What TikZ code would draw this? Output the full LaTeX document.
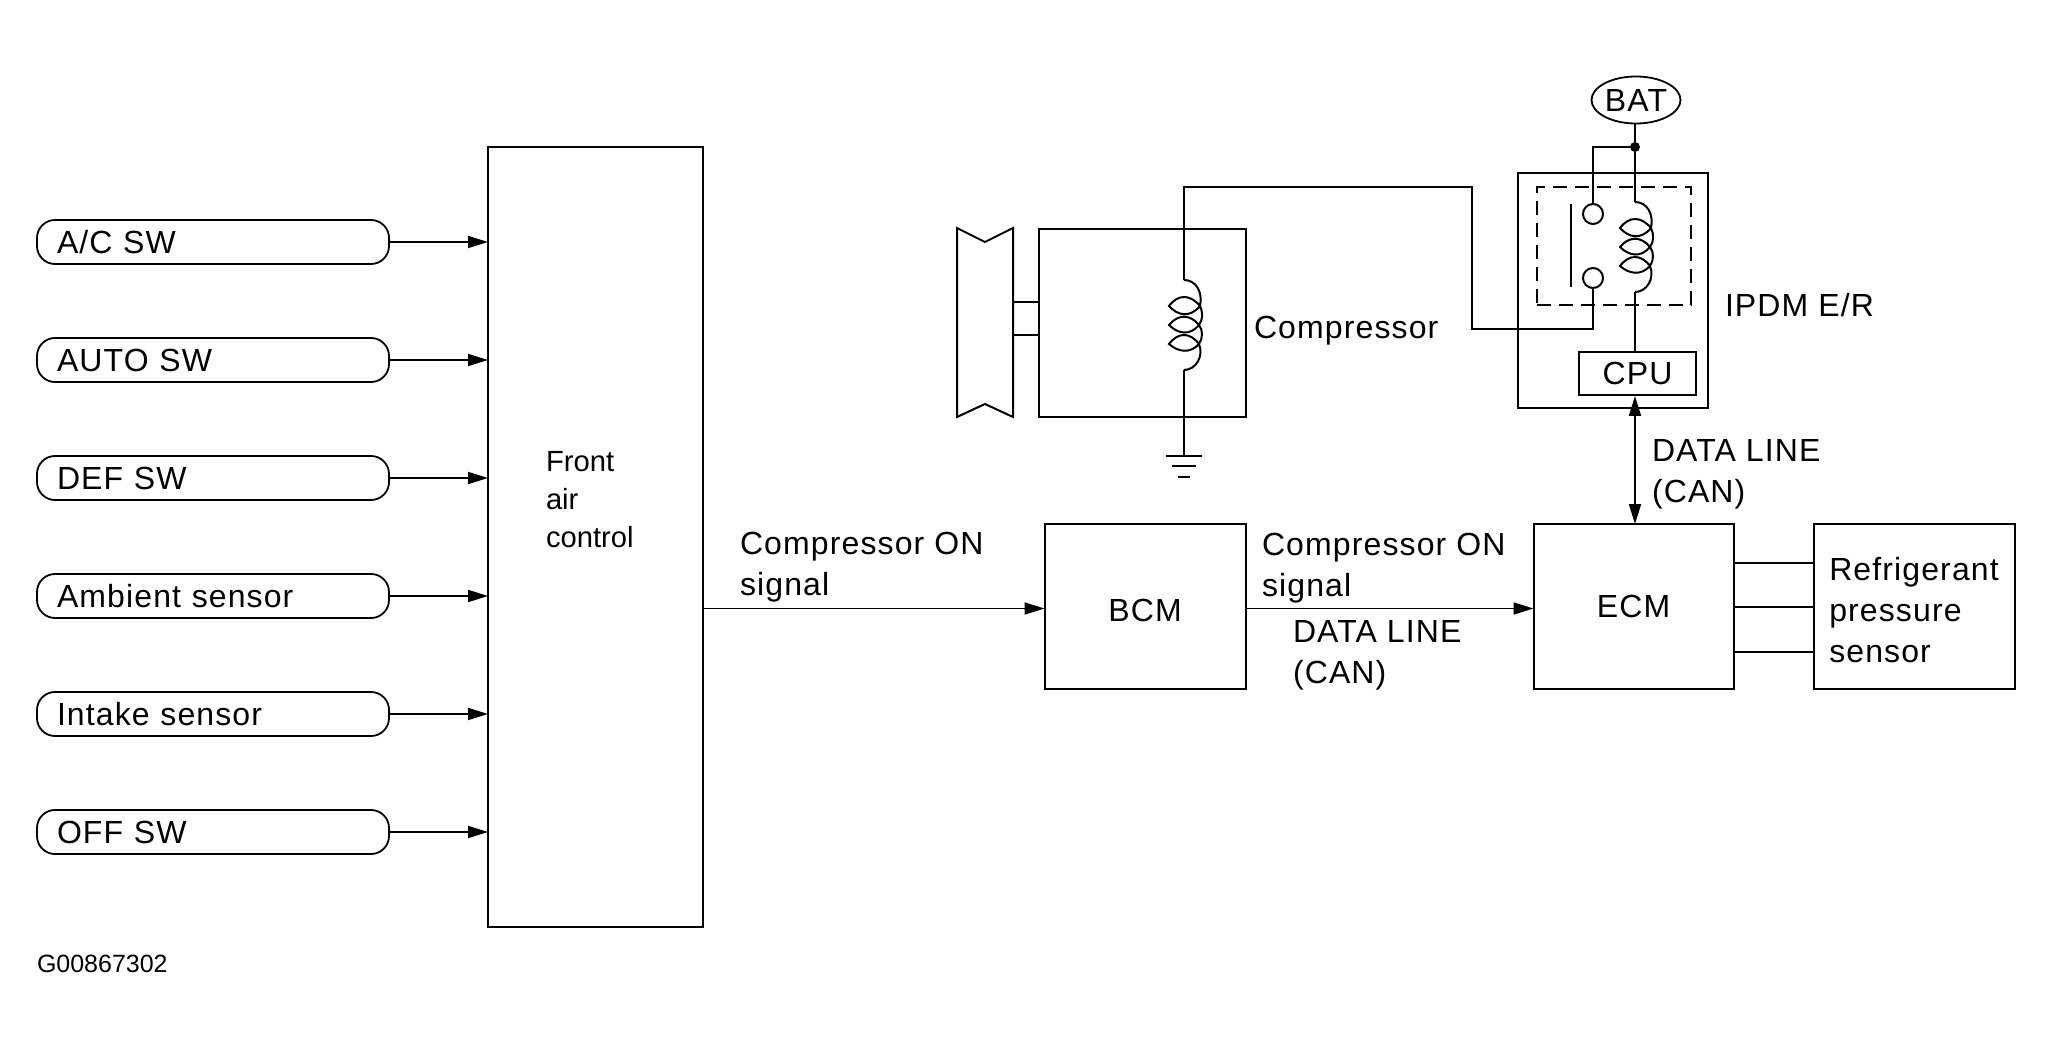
\documentclass[tikz,border=0pt]{standalone}
\usepackage{fontspec}
\setmainfont[LetterSpace=3.5]{Liberation Sans}
\newfontfamily\plainfont{Liberation Sans}
\usepackage{tikz}
\usetikzlibrary{arrows.meta,positioning,shapes.geometric}

\begin{document}
\begin{tikzpicture}[
  x=0.5pt, y=-0.5pt,
  node distance=37pt,
  every node/.style={font=\fontsize{16}{20.5}\selectfont, outer sep=0pt},
  box/.style={draw, line width=1pt, align=left, inner sep=0pt},
  pill/.style={draw, line width=0.9pt, rounded corners=9pt, minimum height=22pt, inner ysep=0pt, inner xsep=10pt,
    text width=156pt, align=left, text height=15pt, text depth=3.5pt},
  lbl/.style={anchor=west, align=left, inner sep=0pt},
  arrow/.style={-{Triangle[length=10pt, width=6pt]}, line width=0.9pt},
  dblarrow/.style={{Triangle[length=10pt, width=6pt]}-{Triangle[length=10pt, width=6pt]}, line width=1pt},
  wire/.style={line width=1pt},
  contact/.style={circle, draw, line width=1pt, minimum size=10pt, inner sep=0pt},
  junction/.style={circle, fill=black, minimum size=5pt, inner sep=0pt},
  coil/.pic={
    \draw[wire] (0,0) .. controls (12,0) and (19,12) .. (16,26)
      .. controls (6,38) and (-6,36) .. (-15,26) .. controls (-6,14) and (6,14) .. (16,26)
      .. controls (19,32) and (19,40) .. (15,45)
      .. controls (6,56) and (-6,54) .. (-15,45) .. controls (-6,34) and (6,34) .. (15,45)
      .. controls (19,50) and (19,58) .. (15,64)
      .. controls (6,74) and (-6,72) .. (-15,64) .. controls (-6,52) and (6,52) .. (15,64)
      .. controls (20,76) and (12,90) .. (0,90);
    \coordinate (-top) at (0,0);
    \coordinate (-bot) at (0,90);
  }
]
\useasboundingbox (0,0) rectangle (2053,1048);

% switches
\node[pill] (acsw) at (213,242) {A/C SW};
\node[pill, below=of acsw] (autosw) {AUTO SW};
\node[pill, below=of autosw] (defsw) {DEF SW};
\node[pill, below=of defsw] (ambient) {Ambient sensor};
\node[pill, below=of ambient] (intake) {Intake sensor};
\node[pill, below=of intake] (offsw) {OFF SW};

\node[box, minimum width=107.5pt, minimum height=390pt] (front) at (595.5,537) {};
\node[lbl, font=\plainfont\fontsize{14.6}{19}\selectfont] (frontlbl) at (546,500) {Front\\air\\control};

\foreach \name in {acsw,autosw,defsw,ambient,intake,offsw}
  \draw[arrow] (\name.east) -- (\name.east -| front.west);

% lower row
\node[box, minimum width=100.5pt, minimum height=82.5pt, text height=15pt] (bcm) at (1145,606.5) {BCM};
\node[box, minimum width=100pt, minimum height=82.5pt, right=144pt of bcm] (ecm) {ECM};
\node[box, minimum width=100.5pt, minimum height=82.5pt, right=40pt of ecm] (sensor) {\rule{0pt}{15pt}Refrigerant\\pressure\\sensor};

\draw[arrow] ([yshift=-1pt]bcm.west -| front.east) -- ([yshift=-1pt]bcm.west);
\draw[arrow] ([yshift=-1pt]bcm.east) -- ([yshift=-1pt]ecm.west);
\foreach \dy in {22,0,-22.5}
  \draw[wire] ([yshift=\dy pt]ecm.east) -- ([yshift=\dy pt]ecm.east -| sensor.west);

\node[lbl] (siga) at (740,567) {Compressor ON\\signal};
\node[lbl] (sigb) at (1262,568) {Compressor ON\\signal};
\node[lbl] (cana) at (1293,655) {DATA LINE\\(CAN)};
\node[lbl] (canb) at (1652,474) {DATA LINE\\(CAN)};

% compressor
\draw[wire] (957,228) -- (985,242) -- (1013,228) -- (1013,417) -- (985,404) -- (957,417) -- cycle;
\node[box, minimum width=103.5pt, minimum height=94pt] (comp) at (1142.5,323) {};
\draw[wire] (1013,302) -- (1039,302);
\draw[wire] (1013,335) -- (1039,335);
\pic (compcoil) at (1184,280) {coil};
\node[lbl] (complbl) at (1254,331) {Compressor};
\coordinate (gnd) at (1184,456);
\draw[wire] (compcoil-bot) -- (gnd);
\draw[wire] ([xshift=-9pt]gnd) -- ([xshift=9pt]gnd);
\draw[wire] ([xshift=-6pt,yshift=-5pt]gnd) -- ([xshift=6pt,yshift=-5pt]gnd);
\draw[wire] ([xshift=-3pt,yshift=-10.5pt]gnd) -- ([xshift=3pt,yshift=-10.5pt]gnd);

% IPDM
\node[draw, ellipse, line width=0.9pt, minimum width=44.5pt, minimum height=23.5pt, inner sep=0pt] (bat) at (1636,100) {BAT};
\node[junction] (batdot) at (1635,147) {};
\node[box, minimum width=95pt, minimum height=117.5pt] (ipdm) at (1613,290.5) {};
\node[box, dashed, dash pattern=on 7pt off 4pt, minimum width=77pt, minimum height=59pt] (relay) at (1614,246) {};
\node[contact] (contup) at (1593,214) {};
\node[contact] (contlo) at (1593,278) {};
\node[box, minimum width=58.5pt, minimum height=21.5pt] (cpu) at (1637.5,373.5) {CPU};
\node[lbl] (ipdmlbl) at (1725,305) {IPDM E/R};
\pic (relaycoil) at (1635,202) {coil};

\draw[wire] (1571,204) -- (1571,287);
\coordinate (turnhi) at (1472,187);
\coordinate (turnlo) at (1472,329);
\coordinate (dtop) at (1635,396);
\draw[wire] (bat.south -| batdot) -- (batdot);
\draw[wire] (batdot) -- (relaycoil-top);
\draw[wire] (batdot) -| (contup.north);
\draw[wire] (relaycoil-bot) -- (relaycoil-bot |- cpu.north);
\draw[wire] (compcoil-top) |- (turnhi) -- (turnlo) -| (contlo.south);
\draw[dblarrow] (dtop) -- (dtop |- ecm.north);

\node[lbl, font=\plainfont\fontsize{12.5}{15}\selectfont] (figcode) at (37,964) {G00867302};
\end{tikzpicture}
\end{document}
